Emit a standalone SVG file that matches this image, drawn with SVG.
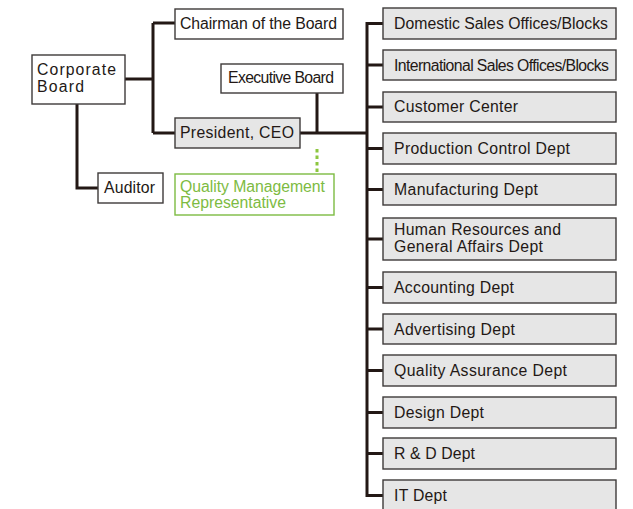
<svg xmlns="http://www.w3.org/2000/svg" width="633" height="509" viewBox="0 0 633 509">
<style>
.bx{fill:#ffffff;stroke:#3e3a39;stroke-width:1.4}
.gy{fill:#e6e6e6;stroke:#3e3a39;stroke-width:1.4}
.qm{fill:#ffffff;stroke:#7dbb42;stroke-width:1.4}
text{font-family:"Liberation Sans",Arial,sans-serif;font-size:15.8px;fill:#231815}
.gt{fill:#7dbb42}
.ln{fill:none;stroke:#231815;stroke-width:3;stroke-linejoin:miter}
.dt{fill:none;stroke:#8cc63f;stroke-width:3;stroke-dasharray:3.5 3}
</style>
<rect width="633" height="509" fill="#ffffff"/>
<g id="connectors">
<path class="ln" d="M125 79H153M153 23V133M153 23H175M153 133H175"/>
<path class="ln" d="M77 104V188H98"/>
<path class="ln" d="M300 133H367M317 93V133"/>
<path class="ln" d="M383 23.5H367V495.5H383"/>
<path class="ln" d="M367 65H383M367 107H383M367 148.5H383M367 189.5H383M367 239H383M367 287.5H383M367 329H383M367 370.5H383M367 412.5H383M367 453.5H383"/>
<path class="dt" d="M317 149V174"/>
</g>
<g id="corporate-board"><rect class="bx" x="32" y="55" width="93" height="49"/><text x="37" y="75" textLength="79">Corporate</text><text x="37" y="92" textLength="47">Board</text></g>
<g id="chairman"><rect class="bx" x="175" y="9" width="168" height="30"/><text x="180" y="29" textLength="157">Chairman of the Board</text></g>
<g id="executive-board"><rect class="bx" x="221" y="64" width="122" height="29"/><text x="228" y="83" textLength="106">Executive Board</text></g>
<g id="president"><rect class="gy" x="175" y="118" width="125" height="30"/><text x="180" y="138" textLength="114">President, CEO</text></g>
<g id="auditor"><rect class="bx" x="98" y="173" width="65" height="30"/><text x="104" y="193" textLength="51">Auditor</text></g>
<g id="qmr"><rect class="qm" x="175" y="174" width="159" height="41"/><text class="gt" x="180" y="192" textLength="145">Quality Management</text><text class="gt" x="180" y="208" textLength="106">Representative</text></g>
<g id="domestic"><rect class="gy" x="383" y="8" width="233" height="31"/><text x="394" y="29" textLength="214">Domestic Sales Offices/Blocks</text></g>
<g id="international"><rect class="gy" x="383" y="50" width="233" height="30"/><text x="394" y="71" textLength="215">International Sales Offices/Blocks</text></g>
<g id="customer"><rect class="gy" x="383" y="92" width="233" height="30"/><text x="394" y="112" textLength="124">Customer Center</text></g>
<g id="production"><rect class="gy" x="383" y="133" width="233" height="31"/><text x="394" y="154" textLength="176">Production Control Dept</text></g>
<g id="manufacturing"><rect class="gy" x="383" y="174" width="233" height="31"/><text x="394" y="195" textLength="144">Manufacturing Dept</text></g>
<g id="hr"><rect class="gy" x="383" y="218" width="233" height="42"/><text x="394" y="235" textLength="167">Human Resources and</text><text x="394" y="252" textLength="149">General Affairs Dept</text></g>
<g id="accounting"><rect class="gy" x="383" y="272" width="233" height="31"/><text x="394" y="293" textLength="120">Accounting Dept</text></g>
<g id="advertising"><rect class="gy" x="383" y="314" width="233" height="30"/><text x="394" y="335" textLength="121">Advertising Dept</text></g>
<g id="quality-assurance"><rect class="gy" x="383" y="355" width="233" height="31"/><text x="394" y="376" textLength="173">Quality Assurance Dept</text></g>
<g id="design"><rect class="gy" x="383" y="397" width="233" height="31"/><text x="394" y="418" textLength="90">Design Dept</text></g>
<g id="rd"><rect class="gy" x="383" y="438" width="233" height="31"/><text x="394" y="459" textLength="81">R &amp; D Dept</text></g>
<g id="it"><rect class="gy" x="383" y="480" width="233" height="31"/><text x="394" y="501" textLength="53">IT Dept</text></g>
</svg>
